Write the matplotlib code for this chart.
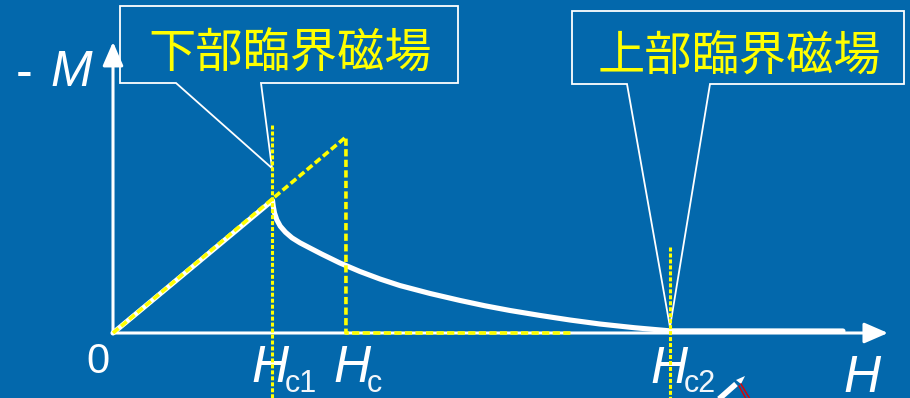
import matplotlib
matplotlib.use("Agg")
import matplotlib.pyplot as plt
from matplotlib.patches import FancyArrowPatch, Polygon, ArrowStyle

plt.rcParams['lines.scale_dashes'] = False

BG = '#0368AC'
YEL = '#FFFF00'
WHITE = '#FFFFFF'

# ---- data (H in units of Hc1, -M in units of -M at Hc1) ----
H_white = [0.0, 1.003, 1.008, 1.016, 1.030, 1.052, 1.085, 1.126, 1.176, 1.239,
           1.314, 1.428, 1.553, 1.679, 1.805, 1.994, 2.182, 2.340, 2.497,
           2.686, 2.874, 3.063, 3.283, 3.503, 4.591]
M_white = [0.0, 0.990, 0.945, 0.895, 0.845, 0.797, 0.752, 0.710, 0.673, 0.634,
           0.588, 0.522, 0.459, 0.403, 0.354, 0.295, 0.243, 0.203, 0.168,
           0.131, 0.097, 0.067, 0.039, 0.016, 0.015]

Hc1 = 1.0
Hc = 1.465
Hc2 = 3.503
H_dashed = [0.0, Hc, Hc, 2.887]
M_dashed = [0.0, 1.463, 0.0, 0.0]
Hc1_line_M = [1.552, -0.6]
Hc2_line_M = [0.642, -0.6]
H_axis_end = 4.874
M_axis_end = 2.172

callout_labels = ['下部臨界磁場', '上部臨界磁場']
callout_tips = [(Hc1, 1.23), (Hc2, 0.045)]

W, Hpx = 910, 398
fig = plt.figure(figsize=(W / 100, Hpx / 100), dpi=100, facecolor=BG)

# overlay axes in pixel coordinates (for annotations)
ov = fig.add_axes([0, 0, 1, 1], zorder=0)
ov.set_xlim(0, W)
ov.set_ylim(Hpx, 0)
ov.axis('off')
ov.set_facecolor(BG)

# data axes
ox, oy, sx, sy = 113, 333, 159.0, 134.0
ax = fig.add_axes([0, 0, 1, 1], zorder=1)
ax.set_xlim(-ox / sx, (W - ox) / sx)
ax.set_ylim(-(Hpx - oy) / sy, oy / sy)
ax.axis('off')
ax.patch.set_alpha(0)

def to_px(x, y):
    dx, dy = ax.transData.transform((x, y))
    return dx, Hpx - dy

# axes arrows
for end in [(H_axis_end, 0.0), (0.0, M_axis_end)]:
    arr = FancyArrowPatch((0, 0), end, arrowstyle=ArrowStyle('-|>', head_length=14.5, head_width=6.3),
                          mutation_scale=1, lw=2.2, color=WHITE, shrinkA=0, shrinkB=0, zorder=2)
    ax.add_patch(arr)

# white magnetisation curve
ax.plot(H_white, M_white, color=WHITE, lw=3.7, solid_capstyle='round',
        solid_joinstyle='round', zorder=3)

# yellow dashed (type I)
l, = ax.plot(H_dashed, M_dashed, color=YEL, lw=2.6, zorder=4)
l.set_dashes([5.2, 2.4])

# dotted verticals at Hc1 and Hc2
for h, mm in [(Hc1, Hc1_line_M), (Hc2, Hc2_line_M)]:
    l, = ax.plot([h, h], mm, color=YEL, lw=2.2, zorder=5)
    l.set_dashes([2.9, 1.4])

# callouts
boxes = [(120, 6, 458, 83, 176, 261), (572, 11, 904, 84, 627, 710)]
for (x0, y0, x1, y1, b0, b1), tip, lab in zip(boxes, callout_tips, callout_labels):
    tx, ty = to_px(*tip)
    poly = Polygon([(x0, y0), (x1, y0), (x1, y1), (b1, y1), (tx, ty), (b0, y1), (x0, y1)],
                   closed=True, facecolor=BG, edgecolor=WHITE, lw=1.3, zorder=1)
    ov.add_patch(poly)
    ov.text((x0 + x1) / 2 + 1, (y0 + y1) / 2 + 10, lab, color=YEL, fontsize=34,
            family=['Noto Sans CJK JP', 'DejaVu Sans'], ha='center', va='center', zorder=3)

# axis labels
sans = ['Liberation Sans', 'DejaVu Sans']
ov.text(16, 87, '-', color=WHITE, fontsize=36, family=sans, ha='left', va='baseline')
ov.text(50, 86, 'M', color=WHITE, fontsize=36, family=sans, style='italic', ha='left', va='baseline')
ov.text(86, 373, '0', color=WHITE, fontsize=30, family=sans, ha='left', va='baseline')

def hlabel(xh, base, sub):
    ov.text(xh, base, 'H', color=WHITE, fontsize=37, family=sans, style='italic',
            ha='left', va='baseline')
    if sub:
        ov.text(xh + 34, 392, sub, color='#F2F6FA', fontsize=22, family=sans,
                ha='left', va='baseline')

hlabel(251, 382, 'c1')
hlabel(333, 382, 'c')
hlabel(650, 383, 'c2')
hlabel(843, 392, '')

# small pen-cursor artefact
ov.plot([719, 736], [399, 384], color=WHITE, lw=4, solid_capstyle='butt', zorder=4)
ov.add_patch(Polygon([(736, 380), (745, 376), (741, 384)], closed=True, facecolor=WHITE,
                     edgecolor='none', zorder=4))
ov.plot([739, 746], [386, 399], color='#E00000', lw=1.0, zorder=5)
ov.plot([741, 750], [384, 399], color='#E00000', lw=1.0, zorder=5)

fig.savefig('out.png', dpi=100, facecolor=BG)
